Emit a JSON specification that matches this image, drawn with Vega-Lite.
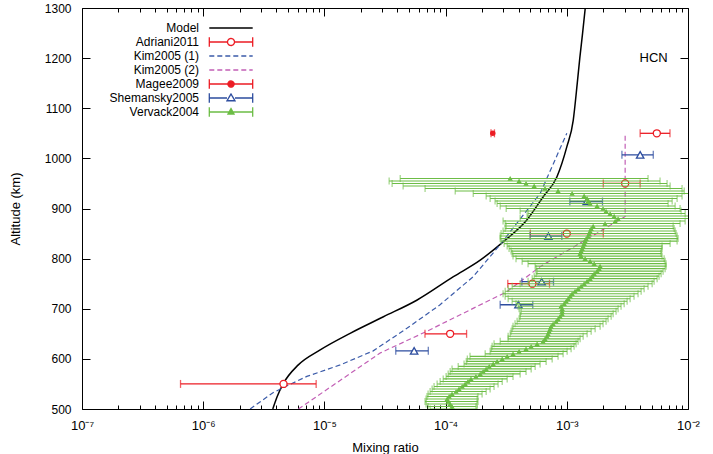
{
"$schema": "https://vega.github.io/schema/vega-lite/v6.json",
"width": 606, "height": 401,
"autosize": {"type": "none"},
"padding": {"left": 82, "top": 8, "right": 25, "bottom": 45},
"background": "white",
"config": {
  "view": {"stroke": "black", "strokeWidth": 1},
  "font": "Liberation Sans",
  "axis": {"grid": false, "domainColor": "black", "tickColor": "black", "labelColor": "black", "titleColor": "black", "labelFont": "Liberation Sans", "titleFont": "Liberation Sans", "labelFontSize": 12, "titleFontSize": 13, "titleFontWeight": "normal", "domainWidth": 1, "tickWidth": 1}
},
"datasets": {
  "curves": [
    {"series": "Model", "alt": 500, "x": 3.75e-6},
    {"series": "Model", "alt": 525, "x": 4.08e-6},
    {"series": "Model", "alt": 551, "x": 4.59e-6},
    {"series": "Model", "alt": 588, "x": 6.09e-6},
    {"series": "Model", "alt": 618, "x": 9.23e-6},
    {"series": "Model", "alt": 651, "x": 1.63e-5},
    {"series": "Model", "alt": 684, "x": 3.07e-5},
    {"series": "Model", "alt": 717, "x": 5.78e-5},
    {"series": "Model", "alt": 764, "x": 1.16e-4},
    {"series": "Model", "alt": 797, "x": 1.93e-4},
    {"series": "Model", "alt": 834, "x": 3.0e-4},
    {"series": "Model", "alt": 877, "x": 4.68e-4},
    {"series": "Model", "alt": 924, "x": 6.41e-4},
    {"series": "Model", "alt": 963, "x": 8.28e-4},
    {"series": "Model", "alt": 1023, "x": 1.0e-3},
    {"series": "Model", "alt": 1076, "x": 1.13e-3},
    {"series": "Model", "alt": 1150, "x": 1.22e-3},
    {"series": "Model", "alt": 1200, "x": 1.28e-3},
    {"series": "Model", "alt": 1250, "x": 1.35e-3},
    {"series": "Model", "alt": 1300, "x": 1.42e-3},
    {"series": "Kim2005 (1)", "alt": 500, "x": 2.44e-6},
    {"series": "Kim2005 (1)", "alt": 533, "x": 3.79e-6},
    {"series": "Kim2005 (1)", "alt": 565, "x": 7.16e-6},
    {"series": "Kim2005 (1)", "alt": 588, "x": 1.35e-5},
    {"series": "Kim2005 (1)", "alt": 616, "x": 2.53e-5},
    {"series": "Kim2005 (1)", "alt": 661, "x": 4.79e-5},
    {"series": "Kim2005 (1)", "alt": 708, "x": 9.0e-5},
    {"series": "Kim2005 (1)", "alt": 764, "x": 1.69e-4},
    {"series": "Kim2005 (1)", "alt": 828, "x": 2.82e-4},
    {"series": "Kim2005 (1)", "alt": 930, "x": 6.03e-4},
    {"series": "Kim2005 (1)", "alt": 1050, "x": 1.0e-3},
    {"series": "Kim2005 (2)", "alt": 500, "x": 6.1e-6},
    {"series": "Kim2005 (2)", "alt": 612, "x": 2.9e-5},
    {"series": "Kim2005 (2)", "alt": 655, "x": 7.0e-5},
    {"series": "Kim2005 (2)", "alt": 734, "x": 3.2e-4},
    {"series": "Kim2005 (2)", "alt": 784, "x": 6.03e-4},
    {"series": "Kim2005 (2)", "alt": 831, "x": 1.29e-3},
    {"series": "Kim2005 (2)", "alt": 884, "x": 3.03e-3},
    {"series": "Kim2005 (2)", "alt": 1050, "x": 3.03e-3}
  ],
  "errs": [
    {"series": "Adriani2011", "alt": 550, "x": 4.6e-6, "lo": 6.5e-7, "hi": 8.55e-6},
    {"series": "Adriani2011", "alt": 650, "x": 1.09e-4, "lo": 6.76e-5, "hi": 1.49e-4},
    {"series": "Adriani2011", "alt": 750, "x": 5.2e-4, "lo": 3.26e-4, "hi": 7.2e-4},
    {"series": "Adriani2011", "alt": 850, "x": 1.0e-3, "lo": 5.0e-4, "hi": 2.0e-3},
    {"series": "Adriani2011", "alt": 950, "x": 3.03e-3, "lo": 2.0e-3, "hi": 4.03e-3},
    {"series": "Adriani2011", "alt": 1050, "x": 5.53e-3, "lo": 4.03e-3, "hi": 7.1e-3},
    {"series": "Magee2009", "alt": 1050, "x": 2.45e-4, "lo": 2.37e-4, "hi": 2.53e-4},
    {"series": "Shemansky2005", "alt": 616, "x": 5.5e-5, "lo": 3.88e-5, "hi": 7.2e-5},
    {"series": "Shemansky2005", "alt": 708, "x": 3.99e-4, "lo": 2.82e-4, "hi": 5.24e-4},
    {"series": "Shemansky2005", "alt": 754, "x": 6.2e-4, "lo": 4.26e-4, "hi": 7.77e-4},
    {"series": "Shemansky2005", "alt": 845, "x": 7.05e-4, "lo": 4.98e-4, "hi": 9.1e-4},
    {"series": "Shemansky2005", "alt": 914, "x": 1.46e-3, "lo": 1.06e-3, "hi": 1.97e-3},
    {"series": "Shemansky2005", "alt": 1007, "x": 4.03e-3, "lo": 2.85e-3, "hi": 5.17e-3}
  ],
  "verv": [
    {"alt": 500, "x": 1.13e-4, "lo": 7.45e-5, "hi": 1.82e-4},
    {"alt": 505, "x": 1.13e-4, "lo": 7.17e-5, "hi": 1.78e-4},
    {"alt": 510, "x": 1.09e-4, "lo": 6.90e-5, "hi": 1.82e-4},
    {"alt": 515, "x": 1.05e-4, "lo": 6.77e-5, "hi": 1.85e-4},
    {"alt": 520, "x": 1.03e-4, "lo": 6.90e-5, "hi": 1.82e-4},
    {"alt": 525, "x": 1.07e-4, "lo": 7.03e-5, "hi": 1.85e-4},
    {"alt": 530, "x": 1.13e-4, "lo": 7.17e-5, "hi": 2.00e-4},
    {"alt": 535, "x": 1.22e-4, "lo": 7.45e-5, "hi": 2.16e-4},
    {"alt": 540, "x": 1.29e-4, "lo": 7.74e-5, "hi": 2.33e-4},
    {"alt": 545, "x": 1.37e-4, "lo": 8.03e-5, "hi": 2.51e-4},
    {"alt": 550, "x": 1.45e-4, "lo": 8.51e-5, "hi": 2.71e-4},
    {"alt": 555, "x": 1.53e-4, "lo": 9.01e-5, "hi": 2.93e-4},
    {"alt": 560, "x": 1.62e-4, "lo": 9.55e-5, "hi": 3.22e-4},
    {"alt": 565, "x": 1.78e-4, "lo": 1.01e-4, "hi": 3.60e-4},
    {"alt": 570, "x": 1.93e-4, "lo": 1.05e-4, "hi": 4.12e-4},
    {"alt": 575, "x": 2.04e-4, "lo": 1.09e-4, "hi": 4.61e-4},
    {"alt": 580, "x": 2.16e-4, "lo": 1.13e-4, "hi": 5.08e-4},
    {"alt": 585, "x": 2.29e-4, "lo": 1.27e-4, "hi": 5.48e-4},
    {"alt": 590, "x": 2.47e-4, "lo": 1.42e-4, "hi": 6.02e-4},
    {"alt": 595, "x": 2.66e-4, "lo": 1.48e-4, "hi": 6.75e-4},
    {"alt": 600, "x": 2.93e-4, "lo": 1.51e-4, "hi": 7.57e-4},
    {"alt": 605, "x": 3.22e-4, "lo": 1.59e-4, "hi": 8.47e-4},
    {"alt": 610, "x": 3.60e-4, "lo": 2.12e-4, "hi": 9.32e-4},
    {"alt": 615, "x": 4.04e-4, "lo": 2.33e-4, "hi": 1.006e-3},
    {"alt": 620, "x": 4.61e-4, "lo": 2.38e-4, "hi": 1.085e-3},
    {"alt": 625, "x": 5.08e-4, "lo": 2.42e-4, "hi": 1.148e-3},
    {"alt": 630, "x": 5.69e-4, "lo": 2.51e-4, "hi": 1.193e-3},
    {"alt": 635, "x": 6.37e-4, "lo": 2.82e-4, "hi": 1.239e-3},
    {"alt": 640, "x": 6.61e-4, "lo": 3.28e-4, "hi": 1.288e-3},
    {"alt": 645, "x": 6.87e-4, "lo": 3.28e-4, "hi": 1.364e-3},
    {"alt": 650, "x": 7.00e-4, "lo": 3.41e-4, "hi": 1.471e-3},
    {"alt": 655, "x": 7.15e-4, "lo": 3.47e-4, "hi": 1.588e-3},
    {"alt": 660, "x": 7.28e-4, "lo": 3.54e-4, "hi": 1.713e-3},
    {"alt": 665, "x": 7.42e-4, "lo": 3.60e-4, "hi": 1.883e-3},
    {"alt": 670, "x": 7.71e-4, "lo": 3.74e-4, "hi": 1.991e-3},
    {"alt": 675, "x": 8.16e-4, "lo": 3.89e-4, "hi": 2.109e-3},
    {"alt": 680, "x": 8.47e-4, "lo": 4.04e-4, "hi": 2.191e-3},
    {"alt": 685, "x": 8.80e-4, "lo": 4.12e-4, "hi": 2.322e-3},
    {"alt": 690, "x": 9.15e-4, "lo": 4.12e-4, "hi": 2.411e-3},
    {"alt": 695, "x": 9.15e-4, "lo": 4.20e-4, "hi": 2.550e-3},
    {"alt": 700, "x": 9.15e-4, "lo": 4.04e-4, "hi": 2.650e-3},
    {"alt": 705, "x": 8.98e-4, "lo": 3.96e-4, "hi": 2.803e-3},
    {"alt": 710, "x": 9.51e-4, "lo": 3.81e-4, "hi": 2.973e-3},
    {"alt": 715, "x": 9.88e-4, "lo": 3.54e-4, "hi": 3.145e-3},
    {"alt": 720, "x": 1.025e-3, "lo": 3.28e-4, "hi": 3.330e-3},
    {"alt": 725, "x": 1.065e-3, "lo": 3.10e-4, "hi": 3.587e-3},
    {"alt": 730, "x": 1.106e-3, "lo": 2.98e-4, "hi": 3.871e-3},
    {"alt": 735, "x": 1.170e-3, "lo": 3.10e-4, "hi": 4.104e-3},
    {"alt": 740, "x": 1.239e-3, "lo": 3.28e-4, "hi": 4.343e-3},
    {"alt": 745, "x": 1.313e-3, "lo": 3.54e-4, "hi": 4.681e-3},
    {"alt": 750, "x": 1.390e-3, "lo": 4.12e-4, "hi": 5.06e-3},
    {"alt": 755, "x": 1.471e-3, "lo": 4.79e-4, "hi": 5.25e-3},
    {"alt": 760, "x": 1.557e-3, "lo": 5.18e-4, "hi": 5.56e-3},
    {"alt": 765, "x": 1.618e-3, "lo": 5.38e-4, "hi": 5.77e-3},
    {"alt": 770, "x": 1.682e-3, "lo": 5.58e-4, "hi": 6.00e-3},
    {"alt": 775, "x": 1.778e-3, "lo": 5.69e-4, "hi": 6.23e-3},
    {"alt": 780, "x": 1.847e-3, "lo": 5.58e-4, "hi": 6.47e-3},
    {"alt": 785, "x": 1.883e-3, "lo": 5.48e-4, "hi": 6.59e-3},
    {"alt": 790, "x": 1.682e-3, "lo": 4.79e-4, "hi": 6.59e-3},
    {"alt": 795, "x": 1.557e-3, "lo": 4.28e-4, "hi": 6.47e-3},
    {"alt": 800, "x": 1.416e-3, "lo": 3.81e-4, "hi": 6.35e-3},
    {"alt": 805, "x": 1.313e-3, "lo": 3.60e-4, "hi": 6.11e-3},
    {"alt": 810, "x": 1.288e-3, "lo": 3.54e-4, "hi": 6.00e-3},
    {"alt": 815, "x": 1.313e-3, "lo": 3.47e-4, "hi": 6.00e-3},
    {"alt": 820, "x": 1.338e-3, "lo": 3.34e-4, "hi": 6.11e-3},
    {"alt": 825, "x": 1.364e-3, "lo": 3.22e-4, "hi": 6.11e-3},
    {"alt": 830, "x": 1.390e-3, "lo": 3.04e-4, "hi": 7.12e-3},
    {"alt": 835, "x": 1.416e-3, "lo": 2.87e-4, "hi": 8.13e-3},
    {"alt": 840, "x": 1.443e-3, "lo": 2.82e-4, "hi": 8.28e-3},
    {"alt": 845, "x": 1.499e-3, "lo": 2.82e-4, "hi": 8.13e-3},
    {"alt": 850, "x": 1.528e-3, "lo": 2.87e-4, "hi": 7.97e-3},
    {"alt": 855, "x": 1.557e-3, "lo": 2.98e-4, "hi": 7.83e-3},
    {"alt": 860, "x": 1.588e-3, "lo": 3.10e-4, "hi": 7.68e-3},
    {"alt": 865, "x": 1.650e-3, "lo": 3.16e-4, "hi": 7.54e-3},
    {"alt": 870, "x": 2.069e-3, "lo": 3.10e-4, "hi": 8.60e-3},
    {"alt": 875, "x": 2.506e-3, "lo": 2.98e-4, "hi": 9.47e-3},
    {"alt": 880, "x": 2.650e-3, "lo": 4.12e-4, "hi": 1.04e-2},
    {"alt": 885, "x": 2.458e-3, "lo": 4.70e-4, "hi": 1.14e-2},
    {"alt": 890, "x": 2.277e-3, "lo": 4.79e-4, "hi": 9.47e-3},
    {"alt": 895, "x": 2.109e-3, "lo": 4.12e-4, "hi": 8.77e-3},
    {"alt": 900, "x": 1.991e-3, "lo": 3.16e-4, "hi": 8.60e-3},
    {"alt": 905, "x": 1.778e-3, "lo": 2.82e-4, "hi": 7.83e-3},
    {"alt": 910, "x": 1.557e-3, "lo": 2.66e-4, "hi": 6.85e-3},
    {"alt": 915, "x": 1.499e-3, "lo": 2.56e-4, "hi": 7.40e-3},
    {"alt": 920, "x": 1.471e-3, "lo": 2.33e-4, "hi": 8.13e-3},
    {"alt": 925, "x": 1.390e-3, "lo": 2.16e-4, "hi": 8.93e-3},
    {"alt": 930, "x": 1.106e-3, "lo": 1.69e-4, "hi": 1.04e-2},
    {"alt": 935, "x": 8.47e-4, "lo": 1.20e-4, "hi": 9.30e-3},
    {"alt": 940, "x": 6.61e-4, "lo": 6.77e-5, "hi": 8.93e-3},
    {"alt": 945, "x": 5.38e-4, "lo": 4.46e-5, "hi": 7.12e-3},
    {"alt": 950, "x": 4.61e-4, "lo": 3.62e-5, "hi": 6.72e-3},
    {"alt": 955, "x": 4.04e-4, "lo": 3.42e-5, "hi": 5.88e-3},
    {"alt": 960, "x": 3.41e-4, "lo": 4.22e-5, "hi": 4.68e-3}
  ]
},
"resolve": {"axis": {"x": "independent", "y": "independent"}},
"encoding": {
  "color": {"field": "series", "type": "nominal",
    "scale": {"domain": ["Model", "Adriani2011", "Kim2005 (1)", "Kim2005 (2)", "Magee2009", "Shemansky2005", "Vervack2004"],
              "range": ["#000000", "#ec1c24", "#3b5ba9", "#c25fb5", "#ec1c24", "#2d4d9f", "#6cbd45"]},
    "legend": {
      "title": null, "orient": "none", "legendX": 143, "legendY": 14,
      "symbolSize": 100, "symbolStrokeWidth": 1.3,
      "labelAlign": "right", "labelOffset": -38, "labelFontSize": 12, "labelFont": "Liberation Sans", "labelColor": "black",
      "rowPadding": -2,
      "encode": {"symbols": {"update": {
        "shape": {"signal": "'M-4.34,-0.95M-4.34,0.95M4.34,-0.95M4.34,0.95' + (datum.value == 'Adriani2011' ? 'M-4.34,0H-0.7M0.7,0H4.34M-4.34,-0.95V0.95M4.34,-0.95V0.95M0.7,0A0.7,0.7,0,1,1,-0.7,0A0.7,0.7,0,1,1,0.7,0' : datum.value == 'Magee2009' ? 'M-4.34,0H4.34M-4.34,-0.95V0.95M4.34,-0.95V0.95M0.62,0A0.62,0.62,0,1,1,-0.62,0A0.62,0.62,0,1,1,0.62,0' : datum.value == 'Shemansky2005' ? 'M-4.34,0H-0.8M0.8,0H4.34M-4.34,-0.95V0.95M4.34,-0.95V0.95M0,-0.8L0.8,0.55L-0.8,0.55Z' : datum.value == 'Vervack2004' ? 'M-4.34,0H4.34M-4.34,-0.95V0.95M4.34,-0.95V0.95M0,-0.7L0.6,0.4L-0.6,0.4Z' : 'M-4.34,0H4.34')"},
        "strokeDash": {"signal": "indexof(datum.value, 'Kim') == 0 ? [5, 3] : [1, 0]"},
        "fillOpacity": {"signal": "datum.value == 'Magee2009' || datum.value == 'Vervack2004' ? 1 : 0"},
        "stroke": {"scale": "color", "field": "value"},
        "opacity": {"value": 1}
      }}}
    }
  }
},
"layer": [
  {
    "data": {"name": "curves"},
    "transform": [{"filter": "datum.series == 'Model'"}],
    "mark": {"type": "line", "interpolate": "monotone", "strokeWidth": 1.5, "clip": true},
    "encoding": {
      "x": {"field": "x", "type": "quantitative", "scale": {"type": "log", "domain": [1e-7, 0.01]},
        "axis": {"orient": "bottom", "values": [1e-7, 1e-6, 1e-5, 1e-4, 1e-3, 1e-2], "ticks": false, "domain": false, "labelPadding": 10, "labelFlush": false, "labelOverlap": false, "labelFontSize": 13,
          "labelExpr": "'10' + ['⁻⁷','⁻⁶','⁻⁵','⁻⁴','⁻³','⁻²'][round(log(datum.value)/LN10) + 7]",
          "title": "Mixing ratio", "titlePadding": 9}},
      "y": {"field": "alt", "type": "quantitative", "scale": {"domain": [500, 1300], "zero": false, "nice": false},
        "axis": {"orient": "left", "values": [500, 600, 700, 800, 900, 1000, 1100, 1200, 1300], "format": "d", "ticks": false, "domain": false, "labelPadding": 11, "title": "Altitude (km)", "titlePadding": 22}},
      "order": {"field": "alt", "type": "quantitative"}
    }
  },
  {
    "data": {"name": "curves"},
    "transform": [{"filter": "datum.series == 'Kim2005 (1)'"}],
    "mark": {"type": "line", "strokeWidth": 1.2, "strokeDash": [5, 3], "clip": true},
    "encoding": {
      "x": {"field": "x", "type": "quantitative", "scale": {"type": "log", "domain": [1e-7, 0.01]},
        "axis": {"orient": "top", "offset": -401, "values": [1e-7, 1e-6, 1e-5, 1e-4, 1e-3, 1e-2], "tickSize": 8, "labels": false, "domain": false, "title": null}},
      "y": {"field": "alt", "type": "quantitative", "scale": {"domain": [500, 1300], "zero": false, "nice": false},
        "axis": {"orient": "right", "offset": -606, "values": [500, 600, 700, 800, 900, 1000, 1100, 1200, 1300], "tickSize": 8, "labels": false, "domain": false, "title": null}},
      "order": {"field": "alt", "type": "quantitative"}
    }
  },
  {
    "data": {"name": "curves"},
    "transform": [{"filter": "datum.series == 'Kim2005 (2)'"}],
    "mark": {"type": "line", "strokeWidth": 1.2, "strokeDash": [5, 3], "clip": true},
    "encoding": {
      "x": {"field": "x", "type": "quantitative", "scale": {"type": "log", "domain": [1e-7, 0.01]},
        "axis": {"orient": "top", "offset": -401, "values": [2e-7, 3e-7, 4e-7, 5e-7, 6e-7, 7e-7, 8e-7, 9e-7, 2e-6, 3e-6, 4e-6, 5e-6, 6e-6, 7e-6, 8e-6, 9e-6, 2e-5, 3e-5, 4e-5, 5e-5, 6e-5, 7e-5, 8e-5, 9e-5, 2e-4, 3e-4, 4e-4, 5e-4, 6e-4, 7e-4, 8e-4, 9e-4, 2e-3, 3e-3, 4e-3, 5e-3, 6e-3, 7e-3, 8e-3, 9e-3], "tickSize": 4, "labels": false, "domain": false, "title": null}},
      "y": {"field": "alt", "type": "quantitative", "scale": {"domain": [500, 1300], "zero": false, "nice": false},
        "axis": {"orient": "left", "offset": -606, "values": [500, 600, 700, 800, 900, 1000, 1100, 1200, 1300], "tickSize": 8, "labels": false, "domain": false, "title": null}},
      "order": {"field": "alt", "type": "quantitative"}
    }
  },
  {
    "data": {"name": "errs"},
    "mark": {"type": "rule", "strokeWidth": 1.3, "clip": true},
    "encoding": {
      "x": {"field": "lo", "type": "quantitative", "scale": {"type": "log", "domain": [1e-7, 0.01]},
        "axis": {"orient": "bottom", "offset": -401, "values": [1e-7, 1e-6, 1e-5, 1e-4, 1e-3, 1e-2], "tickSize": 8, "labels": false, "domain": false, "title": null}},
      "x2": {"field": "hi"},
      "y": {"field": "alt", "type": "quantitative", "scale": {"domain": [500, 1300], "zero": false, "nice": false}, "axis": null}
    }
  },
  {
    "data": {"name": "errs"},
    "mark": {"type": "tick", "orient": "vertical", "size": 8, "thickness": 1.3, "clip": true},
    "encoding": {
      "x": {"field": "lo", "type": "quantitative", "scale": {"type": "log", "domain": [1e-7, 0.01]},
        "axis": {"orient": "bottom", "offset": -401, "values": [2e-7, 3e-7, 4e-7, 5e-7, 6e-7, 7e-7, 8e-7, 9e-7, 2e-6, 3e-6, 4e-6, 5e-6, 6e-6, 7e-6, 8e-6, 9e-6, 2e-5, 3e-5, 4e-5, 5e-5, 6e-5, 7e-5, 8e-5, 9e-5, 2e-4, 3e-4, 4e-4, 5e-4, 6e-4, 7e-4, 8e-4, 9e-4, 2e-3, 3e-3, 4e-3, 5e-3, 6e-3, 7e-3, 8e-3, 9e-3], "tickSize": 4, "labels": false, "domain": false, "title": null}},
      "y": {"field": "alt", "type": "quantitative", "scale": {"domain": [500, 1300], "zero": false, "nice": false}, "axis": null}
    }
  },
  {
    "data": {"name": "errs"},
    "mark": {"type": "tick", "orient": "vertical", "size": 8, "thickness": 1.3, "clip": true},
    "encoding": {
      "x": {"field": "hi", "type": "quantitative", "scale": {"type": "log", "domain": [1e-7, 0.01]}, "axis": null},
      "y": {"field": "alt", "type": "quantitative", "scale": {"domain": [500, 1300], "zero": false, "nice": false}, "axis": null}
    }
  },
  {
    "data": {"name": "errs"},
    "transform": [{"filter": "datum.series == 'Adriani2011'"}],
    "mark": {"type": "point", "shape": "circle", "filled": false, "size": 50, "strokeWidth": 1.3, "fill": "white", "fillOpacity": 1, "clip": true},
    "encoding": {
      "x": {"field": "x", "type": "quantitative", "scale": {"type": "log", "domain": [1e-7, 0.01]}, "axis": null},
      "y": {"field": "alt", "type": "quantitative", "scale": {"domain": [500, 1300], "zero": false, "nice": false}, "axis": null}
    }
  },
  {
    "data": {"name": "errs"},
    "transform": [{"filter": "datum.series == 'Magee2009'"}],
    "mark": {"type": "point", "shape": "circle", "filled": true, "size": 30, "opacity": 1, "clip": true},
    "encoding": {
      "x": {"field": "x", "type": "quantitative", "scale": {"type": "log", "domain": [1e-7, 0.01]}, "axis": null},
      "y": {"field": "alt", "type": "quantitative", "scale": {"domain": [500, 1300], "zero": false, "nice": false}, "axis": null}
    }
  },
  {
    "data": {"name": "errs"},
    "transform": [{"filter": "datum.series == 'Shemansky2005'"}],
    "mark": {"type": "point", "shape": "triangle-up", "filled": false, "size": 55, "strokeWidth": 1.3, "fill": "white", "fillOpacity": 1, "clip": true},
    "encoding": {
      "x": {"field": "x", "type": "quantitative", "scale": {"type": "log", "domain": [1e-7, 0.01]}, "axis": null},
      "y": {"field": "alt", "type": "quantitative", "scale": {"domain": [500, 1300], "zero": false, "nice": false}, "axis": null}
    }
  },
  {
    "data": {"name": "verv"},
    "mark": {"type": "rule", "strokeWidth": 1.1, "clip": true},
    "encoding": {
      "x": {"field": "lo", "type": "quantitative", "scale": {"type": "log", "domain": [1e-7, 0.01]}, "axis": null},
      "x2": {"field": "hi"},
      "y": {"field": "alt", "type": "quantitative", "scale": {"domain": [500, 1300], "zero": false, "nice": false}, "axis": null},
      "color": {"value": "#6cbd45"}
    }
  },
  {
    "data": {"name": "verv"},
    "mark": {"type": "tick", "orient": "vertical", "size": 7, "thickness": 1.1, "clip": true},
    "encoding": {
      "x": {"field": "lo", "type": "quantitative", "scale": {"type": "log", "domain": [1e-7, 0.01]}, "axis": null},
      "y": {"field": "alt", "type": "quantitative", "scale": {"domain": [500, 1300], "zero": false, "nice": false}, "axis": null},
      "color": {"value": "#6cbd45"}
    }
  },
  {
    "data": {"name": "verv"},
    "mark": {"type": "tick", "orient": "vertical", "size": 7, "thickness": 1.1, "clip": true},
    "encoding": {
      "x": {"field": "hi", "type": "quantitative", "scale": {"type": "log", "domain": [1e-7, 0.01]}, "axis": null},
      "y": {"field": "alt", "type": "quantitative", "scale": {"domain": [500, 1300], "zero": false, "nice": false}, "axis": null},
      "color": {"value": "#6cbd45"}
    }
  },
  {
    "data": {"name": "verv"},
    "mark": {"type": "point", "shape": "triangle-up", "filled": true, "size": 30, "opacity": 1, "clip": true},
    "encoding": {
      "x": {"field": "x", "type": "quantitative", "scale": {"type": "log", "domain": [1e-7, 0.01]}, "axis": null},
      "y": {"field": "alt", "type": "quantitative", "scale": {"domain": [500, 1300], "zero": false, "nice": false}, "axis": null},
      "color": {"value": "#6cbd45"}
    }
  },
  {
    "data": {"values": [{"label": "HCN"}]},
    "mark": {"type": "text", "fontSize": 13, "font": "Liberation Sans", "align": "center", "baseline": "middle"},
    "encoding": {
      "x": {"datum": 0.0052, "type": "quantitative", "scale": {"type": "log", "domain": [1e-7, 0.01]}, "axis": null},
      "y": {"datum": 1200, "type": "quantitative", "scale": {"domain": [500, 1300], "zero": false, "nice": false}, "axis": null},
      "text": {"field": "label"},
      "color": {"value": "black"}
    }
  }
]
}
